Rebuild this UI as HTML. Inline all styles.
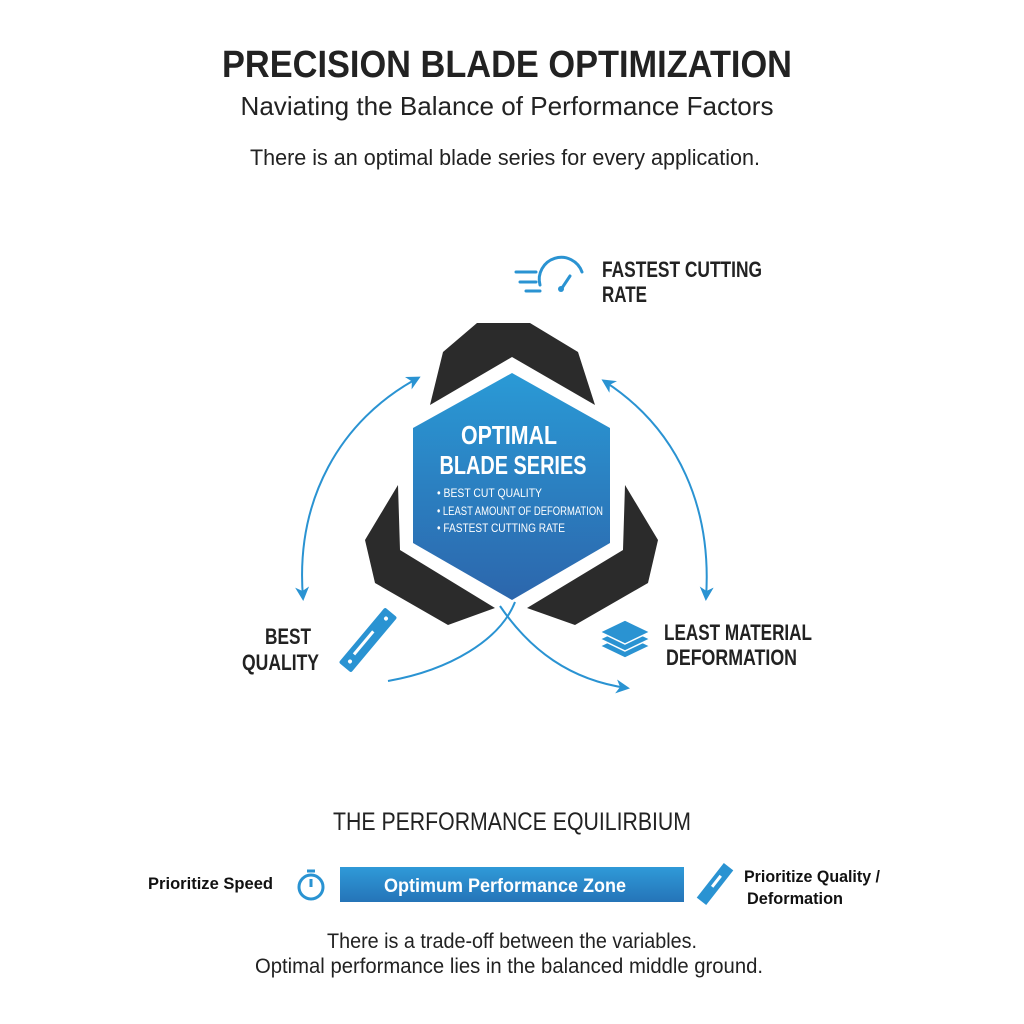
<!DOCTYPE html>
<html><head><meta charset="utf-8"><style>
html,body{margin:0;padding:0;background:#fff;}
svg{display:block;}
text{font-family:"Liberation Sans Narrow","Liberation Sans",sans-serif;}
</style></head><body>
<svg width="1024" height="1024" viewBox="0 0 1024 1024" xmlns="http://www.w3.org/2000/svg">
<defs>
<linearGradient id="hg" x1="0" y1="0" x2="0" y2="1"><stop offset="0" stop-color="#2a9ad6"/><stop offset="1" stop-color="#2c66ac"/></linearGradient>
<linearGradient id="bg" x1="0" y1="0" x2="0" y2="1"><stop offset="0" stop-color="#2f9ad8"/><stop offset="1" stop-color="#2574b8"/></linearGradient>
<marker id="ar" markerWidth="14" markerHeight="14" refX="11" refY="7" orient="auto-start-reverse" markerUnits="userSpaceOnUse"><path d="M0,0 L14,7 L0,14 L4,7 Z" fill="#2a93d2"/></marker>
</defs>
<text x="507" y="77" font-size="38" font-weight="bold" fill="#222" text-anchor="middle" textLength="570" lengthAdjust="spacingAndGlyphs">PRECISION BLADE OPTIMIZATION</text>
<text x="507" y="115" font-size="26" fill="#222" text-anchor="middle" textLength="533" lengthAdjust="spacingAndGlyphs" style="font-family:'Liberation Sans',sans-serif">Naviating the Balance of Performance Factors</text>
<text x="505" y="165" font-size="22" fill="#222" text-anchor="middle" textLength="510" lengthAdjust="spacingAndGlyphs" style="font-family:'Liberation Sans',sans-serif">There is an optimal blade series for every application.</text>

<polygon points="430,405 443,352 477,323 530,323 578,352 595,405 512,357" fill="#2b2b2b"/>
<polygon points="398,485 365,540 375,583 448,625 495,608 400,550" fill="#2b2b2b"/>
<polygon points="625,485 658,540 648,583 575,625 527,608 623,550" fill="#2b2b2b"/>
<polygon points="512,373 610,428 610,543 512,600 413,543 413,428" fill="url(#hg)"/>
<text x="509" y="444" font-size="26" font-weight="bold" fill="#fff" text-anchor="middle" textLength="96" lengthAdjust="spacingAndGlyphs">OPTIMAL</text>
<text x="513" y="474" font-size="26" font-weight="bold" fill="#fff" text-anchor="middle" textLength="147" lengthAdjust="spacingAndGlyphs">BLADE SERIES</text>
<g font-size="12" fill="#fff">
<text x="437" y="497" textLength="105" lengthAdjust="spacingAndGlyphs">• BEST CUT QUALITY</text>
<text x="437" y="515" textLength="166" lengthAdjust="spacingAndGlyphs">• LEAST AMOUNT OF DEFORMATION</text>
<text x="437" y="532" textLength="128" lengthAdjust="spacingAndGlyphs">• FASTEST CUTTING RATE</text>
</g>

<g fill="none" stroke="#2a93d2" stroke-width="2">
<path d="M303,598 C295,500 340,420 418,378" marker-end="url(#ar)" marker-start="url(#ar)"/>
<path d="M604,381 C680,430 712,510 706,598" marker-end="url(#ar)" marker-start="url(#ar)"/>
<path d="M388,681 C450,670 500,640 515,602"/>
<path d="M500,606 C530,650 570,680 627,688" marker-end="url(#ar)"/>
</g>

<g stroke="#2a93d2" stroke-width="3" fill="none" stroke-linecap="round">
<path d="M540,285 A22,22 0 0 1 582,272"/>
<line x1="516" y1="272" x2="536" y2="272"/>
<line x1="520" y1="282" x2="536" y2="282"/>
<line x1="526" y1="291" x2="540" y2="291"/>
<line x1="562" y1="288" x2="570" y2="276"/>
</g>
<circle cx="561" cy="289" r="3" fill="#2a93d2"/>
<g font-size="22" font-weight="bold" fill="#222">
<text x="602" y="277" textLength="160" lengthAdjust="spacingAndGlyphs">FASTEST CUTTING</text>
<text x="602" y="302" textLength="45" lengthAdjust="spacingAndGlyphs">RATE</text>
<text x="265" y="644" textLength="46" lengthAdjust="spacingAndGlyphs">BEST</text>
<text x="242" y="670" textLength="77" lengthAdjust="spacingAndGlyphs">QUALITY</text>
<text x="664" y="640" textLength="148" lengthAdjust="spacingAndGlyphs">LEAST MATERIAL</text>
<text x="666" y="665" textLength="131" lengthAdjust="spacingAndGlyphs">DEFORMATION</text>
</g>
<g transform="translate(368,640) rotate(-50)">
<rect x="-36" y="-8" width="72" height="16" rx="2" fill="#2a93d2"/>
<rect x="-20" y="-3" width="30" height="3" fill="#fff"/>
<circle cx="-28" cy="0" r="2" fill="#fff"/><circle cx="28" cy="0" r="2" fill="#fff"/>
</g>
<g fill="#2a93d2" stroke="#fff" stroke-width="1.5">
<polygon points="625,658 650,646 625,634 600,646" />
<polygon points="625,651 650,639 625,627 600,639" />
<polygon points="625,644 650,632 625,620 600,632" />
</g>

<text x="512" y="830" font-size="25" fill="#222" text-anchor="middle" textLength="358" lengthAdjust="spacingAndGlyphs" style="font-family:'Liberation Sans',sans-serif">THE PERFORMANCE EQUILIRBIUM</text>
<rect x="340" y="867" width="344" height="35" fill="url(#bg)"/>
<text x="505" y="892" font-size="19" font-weight="bold" fill="#fff" text-anchor="middle" textLength="242" lengthAdjust="spacingAndGlyphs">Optimum Performance Zone</text>
<g font-size="17" font-weight="bold" fill="#111">
<text x="148" y="889" textLength="125" lengthAdjust="spacingAndGlyphs">Prioritize Speed</text>
<text x="744" y="882" textLength="136" lengthAdjust="spacingAndGlyphs">Prioritize Quality /</text>
<text x="747" y="904" textLength="96" lengthAdjust="spacingAndGlyphs">Deformation</text>
</g>
<g stroke="#2a93d2" stroke-width="3" fill="none">
<circle cx="311" cy="887" r="12"/>
<line x1="311" y1="887" x2="311" y2="879"/>
<line x1="307" y1="871" x2="315" y2="871"/>
</g>
<g transform="translate(715,884) rotate(-52)">
<rect x="-22" y="-6" width="44" height="12" fill="#2a93d2"/>
<rect x="-4" y="-2" width="14" height="3" fill="#fff"/>
</g>
<g font-size="21" fill="#222" text-anchor="middle" style="font-family:'Liberation Sans',sans-serif">
<text x="512" y="948" textLength="370" lengthAdjust="spacingAndGlyphs">There is a trade-off between the variables.</text>
<text x="509" y="973" textLength="508" lengthAdjust="spacingAndGlyphs">Optimal performance lies in the balanced middle ground.</text>
</g>
</svg>
</body></html>
